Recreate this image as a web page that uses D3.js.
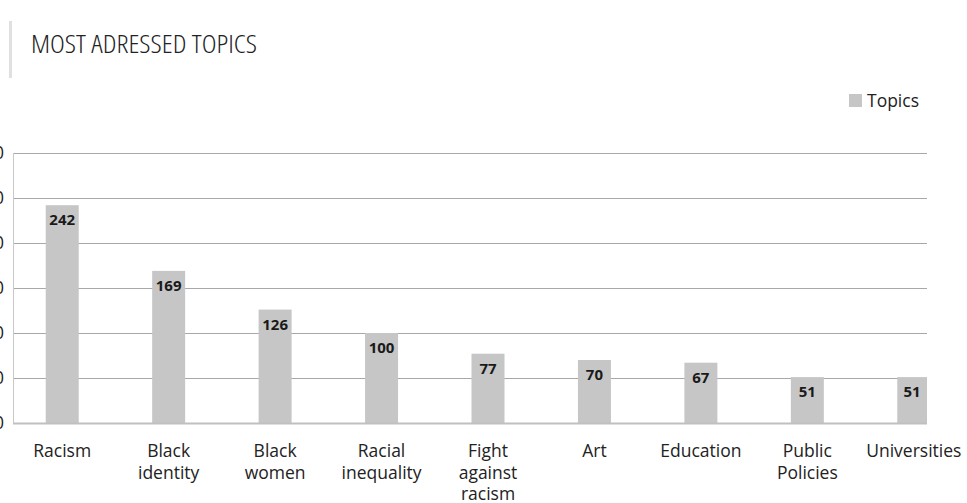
<!DOCTYPE html>
<html><head><meta charset="utf-8">
<script src="https://cdn.jsdelivr.net/npm/d3@7"></script>
<style>body{margin:0;background:#fff}svg{display:block}</style>
</head><body>
<script>
const categories = ["Racism","Black identity","Black women","Racial inequality","Fight against racism","Art","Education","Public Policies","Universities"];
const catLines = [["Racism"],["Black","identity"],["Black","women"],["Racial","inequality"],["Fight","against","racism"],["Art"],["Education"],["Public","Policies"],["Universities"]];
const values = [242,169,126,100,77,70,67,51,51];
const yTicks = [0,50,100,150,200,250,300];
const seriesName = "Topics";
const title = "MOST ADRESSED TOPICS";

const W=967,H=503;
const svg=d3.select("body").append("svg").attr("width",W).attr("height",H);
const font="'Open Sans', sans-serif";

// title
svg.append("rect").attr("x",9).attr("y",21).attr("width",3).attr("height",57).attr("fill","#e0e0e0");
svg.append("text").attr("x",31).attr("y",53).text(title)
  .attr("font-family","'Open Sans',sans-serif").style("font-stretch","75%")
  .attr("font-size",26).attr("font-weight",300).attr("fill","#222")
  .attr("textLength",226).attr("lengthAdjust","spacingAndGlyphs");

// legend
svg.append("rect").attr("x",849).attr("y",94).attr("width",13).attr("height",13).attr("fill","#c6c6c6");
svg.append("text").attr("x",867).attr("y",107).text(seriesName).attr("font-family",font).attr("font-size",17.5).attr("fill","#222");

const plotL=13, plotR=927;
const x=d3.scaleBand().domain(categories).range([9,967]).paddingInner(0.69).paddingOuter(0.345);
const y=d3.scaleLinear().domain([0,300]).range([423,153]);

svg.append("defs").append("clipPath").attr("id","clip").append("rect")
  .attr("x",plotL).attr("y",0).attr("width",plotR-plotL).attr("height",H);

// grid
svg.append("g").selectAll("line").data(yTicks.filter(d=>d>0)).join("line")
  .attr("x1",plotL).attr("x2",plotR).attr("y1",d=>Math.round(y(d))+0.5).attr("y2",d=>Math.round(y(d))+0.5)
  .attr("stroke","#a8a8a8").attr("stroke-width",1);
// left axis line
svg.append("line").attr("x1",plotL+0.5).attr("x2",plotL+0.5).attr("y1",y(300)).attr("y2",y(0)).attr("stroke","#c8c8c8");

// y tick labels (cut off at the left edge as in the reference)
svg.append("g").selectAll("text").data(yTicks).join("text")
  .attr("x",4).attr("y",d=>y(d)+6).attr("text-anchor","end").text(d=>d)
  .attr("font-family",font).attr("font-size",17.5).attr("fill","#222");

// bars
const g=svg.append("g").attr("clip-path","url(#clip)");
g.selectAll("rect").data(values).join("rect")
  .attr("x",(d,i)=>x(categories[i])).attr("width",x.bandwidth())
  .attr("y",d=>y(d)).attr("height",d=>y(0)-y(d)).attr("fill","#c6c6c6");

// bottom axis line
svg.append("line").attr("x1",plotL).attr("x2",plotR).attr("y1",423.5).attr("y2",423.5).attr("stroke","#c0c0c0").attr("stroke-width",2);

// value labels
svg.append("g").selectAll("text").data(values).join("text")
  .attr("x",(d,i)=>Math.min(x(categories[i])+x.bandwidth()/2, (x(categories[i])+plotR)/2))
  .attr("y",d=>y(d)+20).attr("text-anchor","middle").text(d=>d)
  .attr("font-family",font).attr("font-weight",700).attr("font-size",15).attr("fill","#1a1a1a");

// category labels
const cl=svg.append("g").selectAll("text").data(catLines).join("text")
  .attr("text-anchor","middle").attr("font-family",font).attr("font-size",17.5).attr("fill","#222")
  .attr("transform",(d,i)=>`translate(${Math.min(x(categories[i])+x.bandwidth()/2, 916)},457)`);
cl.selectAll("tspan").data(d=>d).join("tspan").attr("x",0).attr("dy",(d,j)=>j?21.5:0).text(d=>d);
</script>
</body></html>
